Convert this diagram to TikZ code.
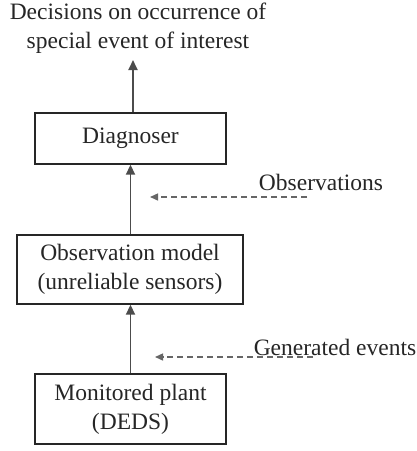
\documentclass[tikz,border=0pt]{standalone}
\usepackage{fontspec}
\setmainfont{Liberation Serif}
\usetikzlibrary{arrows.meta}
\begin{document}
\begin{tikzpicture}[x=1pt,y=-1pt,
  every node/.style={font=\fontsize{23.5}{29}\selectfont, text=black!85},
  box/.style={draw=black!85, line width=1.4pt, align=center, inner sep=0pt},
  flow/.style={draw=black!70, line width=1.8pt, -{Triangle[length=10pt,width=9pt]}},
  obs/.style={draw=black!60, line width=1.4pt, dash pattern=on 6pt off 4pt, -{Triangle[length=8pt,width=7pt]}},
  lbl/.style={inner sep=0pt, anchor=center}]
\useasboundingbox (0,0) rectangle (417,451);
\node[lbl, align=center] (title) at (138,28) {Decisions on occurrence of\\special event of interest};
\node[box, minimum width=191pt, minimum height=51pt] (diag) at (130.5,138.5) {Diagnoser};
\node[box, minimum width=226pt, minimum height=69pt, align=center] (om) at (130,269.5) {Observation model\\(unreliable sensors)};
\node[box, minimum width=191pt, minimum height=70pt, align=center] (plant) at (130.5,409) {Monitored plant\\(DEDS)};
\coordinate (tip) at (133,60);
\draw[flow] (diag.north -| tip) -- (tip);
\draw[flow] ([xshift=0.5pt]om.north) -- ([xshift=0.5pt]om.north |- diag.south);
\draw[flow] (plant.north) -- (plant.north |- om.south);
\node[lbl] (obstxt) at (321,182) {Observations};
\coordinate (o1) at (307,197);
\coordinate (o2) at (150,197);
\draw[obs] (o1) -- (o2);
\node[lbl] (gentxt) at (335,347) {Generated events};
\coordinate (g1) at (313,357);
\coordinate (g2) at (155,357);
\draw[obs] (g1) -- (g2);
\end{tikzpicture}
\end{document}
